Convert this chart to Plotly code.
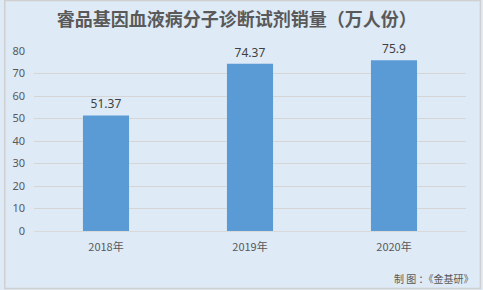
import plotly.graph_objects as go

categories = ["2018年", "2019年", "2020年"]
values = [51.37, 74.37, 75.9]
value_labels = ["51.37", "74.37", "75.9"]
y_ticks = [0, 10, 20, 30, 40, 50, 60, 70, 80]

W, H = 483, 290
L, R, T, B = 30, 17, 51, 59
pw, ph = W - L - R, H - T - B

fig = go.Figure()
fig.add_trace(go.Bar(
    x=categories, y=values,
    marker=dict(color="#5B9BD5", line=dict(width=0)),
    text=value_labels, textposition="outside",
    textfont=dict(family="Noto Sans, sans-serif", size=12, color="#404040"),
    cliponaxis=False,
))

fig.update_layout(
    width=W, height=H,
    margin=dict(l=L, r=R, t=T, b=B),
    paper_bgcolor="#DEEAF6",
    plot_bgcolor="#DEEAF6",
    bargap=0.68,
    showlegend=False,
    title=dict(
        text="<b>睿品基因血液病分子诊断试剂销量（万人份）</b>",
        x=0.49, xanchor="center", y=1 - 20 / H, yanchor="middle",
        font=dict(family="Noto Sans CJK SC, sans-serif", size=18, color="#595959"),
    ),
    xaxis=dict(
        tickfont=dict(family="Noto Sans CJK SC, sans-serif", size=11, color="#595959"),
        showline=True, linecolor="#D9D9D9", linewidth=1,
        ticks="", showgrid=False, ticklabelstandoff=6,
    ),
    yaxis=dict(
        range=[0, 80], tickvals=y_ticks,
        tickfont=dict(family="Noto Sans, sans-serif", size=11, color="#595959"),
        showgrid=True, gridcolor="#D5D5D5", gridwidth=1,
        zeroline=False, showline=False, ticks="", ticklabelstandoff=8,
    ),
    annotations=[dict(
        text="制 图 ：《金基研》", xref="paper", yref="paper",
        x=1 + 9 / pw, y=-(278 - (T + ph)) / ph,
        xanchor="right", yanchor="middle", showarrow=False,
        font=dict(family="Noto Sans CJK SC, sans-serif", size=10, color="#595959"),
    )],
    shapes=[dict(
        type="rect", xref="paper", yref="paper",
        x0=-(L - 0.5) / pw, x1=1 + (R - 2.5) / pw,
        y0=-(B - 1.5) / ph, y1=1 + (T - 0.5) / ph,
        line=dict(color="#D0D0D0", width=1.5), fillcolor="rgba(0,0,0,0)",
        layer="below",
    )],
)

fig.write_html("out.html")
